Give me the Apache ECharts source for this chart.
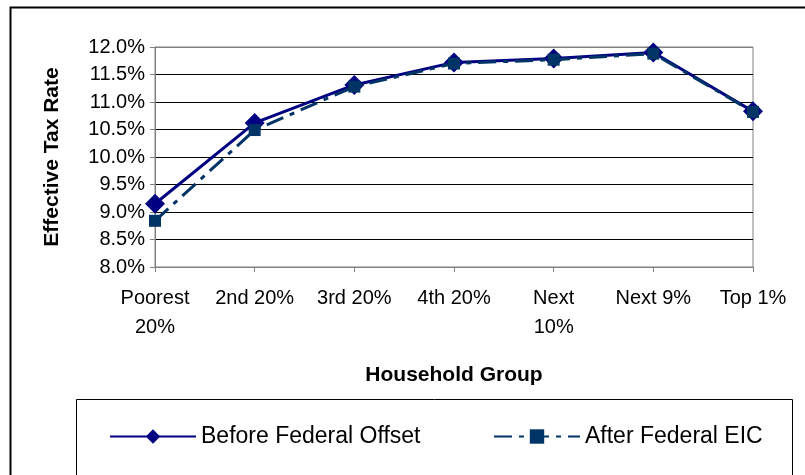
<!DOCTYPE html>
<html>
<head>
<meta charset="utf-8">
<script src="https://cdn.jsdelivr.net/npm/echarts@6/dist/echarts.min.js"></script>
<style>
  html, body { margin: 0; padding: 0; background: #fff; }
  #chart { width: 805px; height: 475px; }
</style>
</head>
<body>
<div id="chart"></div>
<script>
// household groups on the x axis
const groups = ['Poorest\n20%', '2nd 20%', '3rd 20%', '4th 20%', 'Next\n10%', 'Next 9%', 'Top 1%']
// effective tax rate, percent
const beforeOffset = [9.15, 10.62, 11.31, 11.72, 11.79, 11.9, 10.83]
const afterEic = [8.84, 10.49, 11.28, 11.7, 11.77, 11.88, 10.82]
const yTicks = { min: 8, max: 12, step: 0.5 }

const font = 'Arial, "Liberation Sans", sans-serif'
const gridColors = ['#808080', '#000', '#000', '#000', '#000', '#000', '#000', '#000', '#808080']
const legendText = { fontFamily: font, fontSize: 23, color: '#000' }

const chart = echarts.init(document.getElementById('chart'))

chart.setOption({
  backgroundColor: '#fff',
  animation: false,
  textStyle: { fontFamily: font },
  graphic: [
    {
      type: 'rect',
      shape: { x: 10.5, y: 7.5, width: 820, height: 500 },
      style: { fill: 'none', stroke: '#000', lineWidth: 2 }
    },
    {
      type: 'rect',
      shape: { x: 76.5, y: 399.5, width: 716, height: 100 },
      style: { fill: 'none', stroke: '#000', lineWidth: 1 }
    }
  ],
  legend: [
    {
      left: 104,
      top: 420,
      itemWidth: 86,
      itemHeight: 18,
      textStyle: legendText,
      data: ['Before Federal Offset']
    },
    {
      left: 488,
      top: 420,
      itemWidth: 86,
      itemHeight: 18,
      textStyle: legendText,
      data: ['After Federal EIC']
    }
  ],
  grid: {
    left: 155,
    right: 52,
    top: 47,
    bottom: 208,
    show: true,
    borderColor: '#808080',
    borderWidth: 1
  },
  xAxis: {
    type: 'category',
    data: groups,
    boundaryGap: false,
    name: 'Household Group',
    nameLocation: 'middle',
    nameGap: 98,
    nameTextStyle: { fontFamily: font, fontSize: 21, fontWeight: 'bold', color: '#000' },
    axisLine: { lineStyle: { color: '#808080', width: 1 } },
    axisTick: { show: true, length: 5, lineStyle: { color: '#808080' } },
    axisLabel: {
      color: '#000',
      fontSize: 20,
      lineHeight: 29,
      margin: 17,
      interval: 0
    }
  },
  yAxis: {
    type: 'value',
    min: yTicks.min,
    max: yTicks.max,
    interval: yTicks.step,
    name: 'Effective Tax Rate',
    nameLocation: 'middle',
    nameGap: 92,
    nameRotate: 90,
    nameTextStyle: { fontFamily: font, fontSize: 21, fontWeight: 'bold', color: '#000' },
    axisLine: { show: true, lineStyle: { color: '#808080', width: 1 } },
    axisTick: { show: true, length: 5, lineStyle: { color: '#808080' } },
    axisLabel: {
      color: '#000',
      fontSize: 20,
      margin: 10,
      formatter: (v) => v.toFixed(1) + '%'
    },
    splitLine: { show: true, lineStyle: { color: gridColors, width: 1 } }
  },
  series: [
    {
      name: 'Before Federal Offset',
      type: 'line',
      data: beforeOffset,
      symbol: 'diamond',
      symbolSize: 20,
      itemStyle: { color: '#000080' },
      lineStyle: { color: '#000080', width: 3 },
      z: 3
    },
    {
      name: 'After Federal EIC',
      type: 'line',
      data: afterEic,
      symbol: 'rect',
      symbolSize: 12,
      itemStyle: { color: '#003366' },
      lineStyle: { color: '#003366', width: 3, type: [18, 7, 5, 7] },
      z: 4
    }
  ]
})
</script>
</body>
</html>
